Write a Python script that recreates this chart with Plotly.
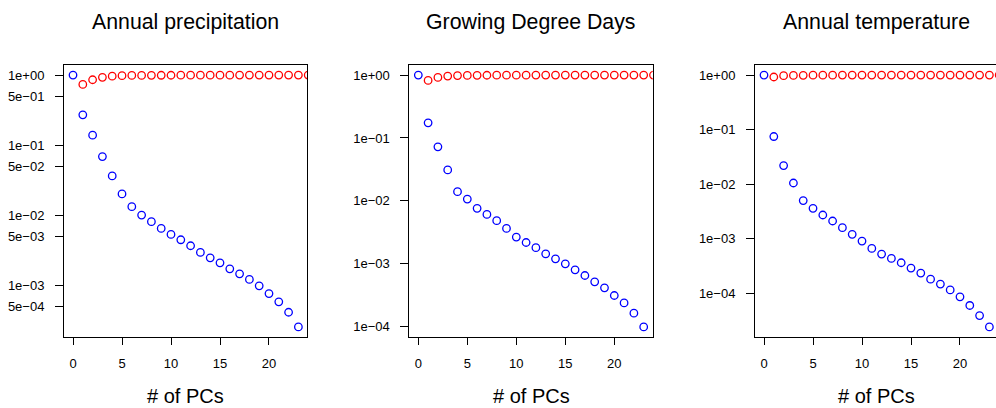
import plotly.graph_objects as go
import numpy as np

# ---- data ----
titles = ["Annual precipitation", "Growing Degree Days", "Annual temperature"]
x_title = "# of PCs"

pcs_blue = list(range(0, 24))
pcs_red = list(range(1, 25))

precip_blue = [1.0, 0.271, 0.139, 0.0689, 0.0365, 0.0202, 0.0133, 0.0101, 0.00812, 0.00652,
               0.00535, 0.00449, 0.00369, 0.00296, 0.00248, 0.00211, 0.00173, 0.00147, 0.00122,
               0.000989, 0.000769, 0.000585, 0.000416, 0.000257]
precip_red = [0.735, 0.858, 0.928, 0.964, 0.980, 0.987, 0.990, 0.992, 0.9935, 0.9947, 0.9955,
              0.9963, 0.997, 0.9975, 0.9979, 0.9983, 0.9985, 0.9988, 0.999, 0.9992, 0.9994,
              0.9996, 0.9997, 1.0]

gdd_blue = [1.0, 0.174, 0.0722, 0.031, 0.0140, 0.0107, 0.0076, 0.0061, 0.00484, 0.00365,
            0.00266, 0.00218, 0.00180, 0.00144, 0.00120, 0.000997, 0.000801, 0.000651,
            0.000516, 0.000414, 0.000313, 0.000239, 0.000164, 0.0000991]
gdd_red = [0.822, 0.918, 0.964, 0.981, 0.988, 0.992, 0.994, 0.9955, 0.9965, 0.9973, 0.998,
           0.9984, 0.9987, 0.999, 0.9992, 0.9994, 0.9995, 0.9996, 0.9997, 0.9998, 0.9999,
           0.9999, 1.0, 1.0]

temp_blue = [1.0, 0.0747, 0.0219, 0.0105, 0.00499, 0.00360, 0.00272, 0.00211, 0.00159, 0.00120,
             0.000905, 0.000664, 0.000522, 0.000435, 0.000362, 0.000289, 0.000234, 0.000181,
             0.000147, 0.000115, 0.0000859, 0.0000596, 0.0000390, 0.0000241]
temp_red = [0.922, 0.975, 0.986, 0.991, 0.994, 0.996, 0.997, 0.998, 0.9985, 0.999, 0.9993,
            0.9994, 0.9995, 0.9996, 0.9997, 0.9998, 0.9998, 0.9999, 0.9999, 0.9999, 1.0,
            1.0, 1.0, 1.0]

x_ticks = [0, 5, 10, 15, 20]
y_tickvals = [
    [1, 0.5, 0.1, 0.05, 0.01, 0.005, 0.001, 0.0005],
    [1, 0.1, 0.01, 0.001, 0.0001],
    [1, 0.1, 0.01, 0.001, 0.0001],
]
y_ticktext = [
    ["1e+00", "5e\u221201", "1e\u221201", "5e\u221202", "1e\u221202", "5e\u221203", "1e\u221203", "5e\u221204"],
    ["1e+00", "1e\u221201", "1e\u221202", "1e\u221203", "1e\u221204"],
    ["1e+00", "1e\u221201", "1e\u221202", "1e\u221203", "1e\u221204"],
]

blues = [precip_blue, gdd_blue, temp_blue]
reds = [precip_red, gdd_red, temp_red]

# ---- layout geometry ----
W, H = 996, 408
lefts = [64.0, 409.3, 755.0]
panel_w = 243.4
top_px, bot_px = 65.0, 337.0
FONT = "Liberation Sans, Arial, Helvetica, sans-serif"

fig = go.Figure()
annotations = []
for i in range(3):
    n = "" if i == 0 else str(i + 1)
    fig.add_trace(go.Scatter(x=pcs_blue, y=blues[i], mode="markers", xaxis="x" + n, yaxis="y" + n,
                             marker=dict(symbol="circle-open", size=7.5, color="#0000FF",
                                         line=dict(width=1.3, color="#0000FF")),
                             showlegend=False, hoverinfo="x+y"))
    fig.add_trace(go.Scatter(x=pcs_red, y=reds[i], mode="markers", xaxis="x" + n, yaxis="y" + n,
                             marker=dict(symbol="circle-open", size=7.5, color="#FF0000",
                                         line=dict(width=1.3, color="#FF0000")),
                             showlegend=False, hoverinfo="x+y"))
    # R-style 4% axis expansion based on plotted (blue) data
    xmin, xmax = min(pcs_blue), max(pcs_blue)
    dx = xmax - xmin
    xr0, xr1 = xmin - 0.04 * dx, xmax + 0.04 * dx
    left = lefts[i]
    right = left + panel_w
    if right > W:
        frac = (W - left) / panel_w
        xr1 = xr0 + (xr1 - xr0) * frac
        right = W
    ly = np.log10(blues[i])
    lo, hi = ly.min(), max(ly.max(), 0.0)
    dy = hi - lo
    yr = [lo - 0.04 * dy, hi + 0.04 * dy]

    fig.layout["xaxis" + n] = dict(
        domain=[left / W, right / W], range=[xr0, xr1], anchor="y" + n,
        tickvals=x_ticks, ticks="outside", ticklen=7, tickwidth=1, tickcolor="#000",
        showline=True, mirror=True, linecolor="#000", linewidth=1,
        showgrid=False, zeroline=False, ticklabelstandoff=7,
        tickfont=dict(family=FONT, size=13, color="#000"), fixedrange=True)
    fig.layout["yaxis" + n] = dict(
        domain=[(H - bot_px) / H, (H - top_px) / H], type="log", range=yr, anchor="x" + n,
        tickvals=y_tickvals[i], ticktext=y_ticktext[i], ticks="outside", ticklen=8,
        tickwidth=1, tickcolor="#000",
        showline=True, mirror=(i < 2), linecolor="#000", linewidth=1,
        showgrid=False, zeroline=False, ticklabelstandoff=8,
        tickfont=dict(family=FONT, size=13, color="#000"), fixedrange=True)

    cx = (left + left + panel_w) / 2 / W
    annotations.append(dict(text=titles[i], x=cx, y=1 - 21.5 / H, xref="paper", yref="paper",
                            xanchor="center", yanchor="middle", showarrow=False,
                            font=dict(family=FONT, size=21.3, color="#000")))
    annotations.append(dict(text=x_title, x=cx, y=1 - 395.5 / H, xref="paper", yref="paper",
                            xanchor="center", yanchor="middle", showarrow=False,
                            font=dict(family=FONT, size=20, color="#000")))

fig.update_layout(width=W, height=H, margin=dict(l=0, r=0, t=0, b=0),
                  paper_bgcolor="white", plot_bgcolor="white",
                  annotations=annotations, showlegend=False)

fig.write_html("out.html", config={"displayModeBar": False},
               post_script="document.body.style.margin='0';document.body.style.overflow='hidden';")
